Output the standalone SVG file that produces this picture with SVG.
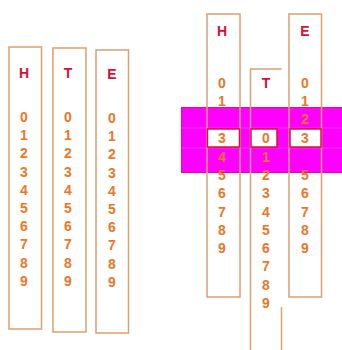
<svg xmlns="http://www.w3.org/2000/svg" width="342" height="350" viewBox="0 0 342 350">
<style>
.strip{fill:none;stroke:#D9A172;stroke-width:1.5}
.lt{font-family:"Liberation Sans",Arial,sans-serif;font-weight:bold;font-size:14px;fill:#D41038;text-anchor:middle}
.dg{font-family:"Liberation Sans",Arial,sans-serif;font-weight:bold;font-size:14px;fill:#E8782A;text-anchor:middle}
.win{fill:#FFFFFF;stroke:#D8103E;stroke-width:1.5}
</style>
<rect width="342" height="350" fill="#FFFFFF"/>
<g id="left-H">
<rect class="strip" x="9" y="47" width="32.5" height="282"/>
<text class="lt" x="24" y="78">H</text>
<text class="dg" x="24" y="122">0</text><text class="dg" x="24" y="140">1</text><text class="dg" x="24" y="158">2</text><text class="dg" x="24" y="177">3</text><text class="dg" x="24" y="195">4</text><text class="dg" x="24" y="213">5</text><text class="dg" x="24" y="231">6</text><text class="dg" x="24" y="249">7</text><text class="dg" x="24" y="268">8</text><text class="dg" x="24" y="286">9</text>
</g>
<g id="left-T">
<rect class="strip" x="53" y="48" width="33" height="284"/>
<text class="lt" x="68" y="78">T</text>
<text class="dg" x="68" y="122">0</text><text class="dg" x="68" y="140">1</text><text class="dg" x="68" y="158">2</text><text class="dg" x="68" y="177">3</text><text class="dg" x="68" y="195">4</text><text class="dg" x="68" y="213">5</text><text class="dg" x="68" y="231">6</text><text class="dg" x="68" y="249">7</text><text class="dg" x="68" y="268">8</text><text class="dg" x="68" y="286">9</text>
</g>
<g id="left-E">
<rect class="strip" x="96" y="50" width="32.5" height="283"/>
<text class="lt" x="112" y="79">E</text>
<text class="dg" x="112" y="123">0</text><text class="dg" x="112" y="141">1</text><text class="dg" x="112" y="159">2</text><text class="dg" x="112" y="178">3</text><text class="dg" x="112" y="196">4</text><text class="dg" x="112" y="214">5</text><text class="dg" x="112" y="232">6</text><text class="dg" x="112" y="250">7</text><text class="dg" x="112" y="269">8</text><text class="dg" x="112" y="287">9</text>
</g>
<g id="band">
<rect x="181.5" y="107.5" width="161" height="65" fill="#FF00FF" stroke="#E8106A" stroke-width="1"/>
<line x1="181.5" y1="128" x2="342" y2="128" stroke="#F040F0" stroke-width="0.8"/>
<line x1="181.5" y1="148" x2="342" y2="148" stroke="#F040F0" stroke-width="0.8"/>
</g>
<g id="right-H">
<rect class="strip" x="207" y="14" width="33" height="283"/>
<text class="lt" x="222" y="36">H</text>
<text class="dg" x="222" y="88">0</text><text class="dg" x="222" y="106">1</text>
<rect class="win" x="207.5" y="129" width="32" height="18"/>
<text class="dg" x="222" y="143">3</text><text class="dg" x="222" y="162">4</text><text class="dg" x="222" y="180">5</text><text class="dg" x="222" y="198">6</text><text class="dg" x="222" y="217">7</text><text class="dg" x="222" y="235">8</text><text class="dg" x="222" y="253">9</text>
</g>
<g id="right-T">
<path class="strip" d="M250.5,350 V69 H281.5"/>
<line class="strip" x1="281.5" y1="307" x2="281.5" y2="350"/>
<text class="lt" x="266" y="88">T</text>
<rect class="win" x="251" y="129" width="26" height="18"/>
<text class="dg" x="266" y="143">0</text><text class="dg" x="266" y="162">1</text><text class="dg" x="266" y="180">2</text><text class="dg" x="266" y="198">3</text><text class="dg" x="266" y="217">4</text><text class="dg" x="266" y="235">5</text><text class="dg" x="266" y="253">6</text><text class="dg" x="266" y="271">7</text><text class="dg" x="266" y="290">8</text><text class="dg" x="266" y="308">9</text>
</g>
<g id="right-E">
<rect class="strip" x="289" y="14" width="32.5" height="283"/>
<text class="lt" x="305" y="36">E</text>
<text class="dg" x="305" y="88">0</text><text class="dg" x="305" y="106">1</text><text class="dg" x="305" y="124">2</text>
<rect class="win" x="290" y="129" width="31" height="18"/>
<text class="dg" x="305" y="143">3</text><text class="dg" x="305" y="180">5</text><text class="dg" x="305" y="198">6</text><text class="dg" x="305" y="217">7</text><text class="dg" x="305" y="235">8</text><text class="dg" x="305" y="253">9</text>
</g>
</svg>
